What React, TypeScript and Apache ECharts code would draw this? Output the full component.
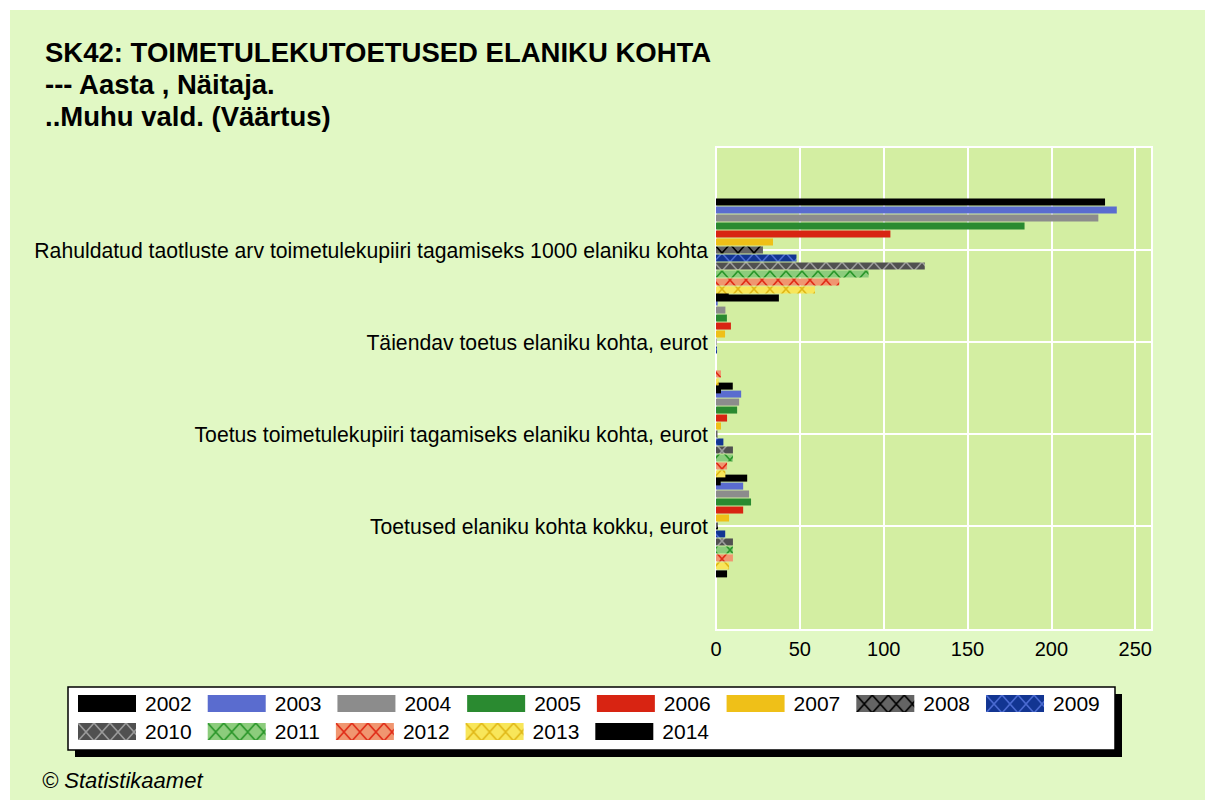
import React, { useEffect, useRef } from 'react';
import * as echarts from 'echarts';

const categories = [
  'Rahuldatud taotluste arv toimetulekupiiri tagamiseks 1000 elaniku kohta',
  'Täiendav toetus elaniku kohta, eurot',
  'Toetus toimetulekupiiri tagamiseks elaniku kohta, eurot',
  'Toetused elaniku kohta kokku, eurot',
];

const years = ['2002', '2003', '2004', '2005', '2006', '2007', '2008', '2009', '2010', '2011', '2012', '2013', '2014'];

// values per year, in category order
const v2002 = [232, 7.6, 10.0, 18.6];
const v2003 = [239, 1.0, 15.0, 16.2];
const v2004 = [228, 5.6, 13.8, 19.7];
const v2005 = [184, 6.5, 12.6, 20.9];
const v2006 = [104, 8.9, 6.6, 16.2];
const v2007 = [34, 5.4, 3.0, 7.8];
const v2008 = [28, 0.3, 0.9, 1.2];
const v2009 = [48, 0.6, 4.4, 5.5];
const v2010 = [124.5, 0, 10.1, 10.1];
const v2011 = [91, 0, 10.1, 10.1];
const v2012 = [73.5, 3.0, 6.6, 10.1];
const v2013 = [59, 1.6, 5.6, 7.8];
const v2014 = [37.5, 3.0, 2.8, 6.6];

const seriesValues = [v2002, v2003, v2004, v2005, v2006, v2007, v2008, v2009, v2010, v2011, v2012, v2013, v2014];

const xTicks = [0, 50, 100, 150, 200, 250];

const FONT = "'Liberation Sans', Arial, sans-serif";

function makePattern(bg: string, line: string): any {
  const c = document.createElement('canvas');
  c.width = 16;
  c.height = 18;
  const ctx = c.getContext('2d') as CanvasRenderingContext2D;
  ctx.fillStyle = bg;
  ctx.fillRect(0, 0, 16, 18);
  ctx.strokeStyle = line;
  ctx.lineWidth = 1.6;
  ctx.beginPath();
  ctx.moveTo(0, 0);
  ctx.lineTo(16, 18);
  ctx.moveTo(16, 0);
  ctx.lineTo(0, 18);
  ctx.stroke();
  return { image: c, repeat: 'repeat', imageWidth: 16, imageHeight: 18 };
}

export default function App() {
  const ref = useRef<HTMLDivElement>(null);

  useEffect(() => {
    if (!ref.current) return;
    const chart = echarts.init(ref.current, null, { renderer: 'svg' });

    const colors: any[] = [
      '#000000',
      '#5a6ccf',
      '#8c8c8c',
      '#2a8a30',
      '#d82412',
      '#efc018',
      makePattern('#646464', '#000000'),
      makePattern('#123592', '#4a6ad0'),
      makePattern('#505050', '#9a9a9a'),
      makePattern('#8ccc7c', '#2a962a'),
      makePattern('#f09670', '#e02c18'),
      makePattern('#f8e65a', '#e0b818'),
      '#000000',
    ];

    const series = years.map((y, i) => ({
      name: y,
      type: 'bar',
      xAxisIndex: 1,
      yAxisIndex: 1,
      data: seriesValues[i],
      barWidth: 7,
      barGap: '14%',
      clip: false,
      itemStyle: { color: colors[i] },
      emphasis: { disabled: true },
      silent: true,
    }));

    const legendBase = {
      left: 68,
      orient: 'horizontal',
      itemWidth: 58,
      itemHeight: 17,
      itemGap: 16,
      padding: 0,
      icon: 'rect',
      selectedMode: false,
      textStyle: { fontSize: 21, color: '#000', fontFamily: FONT, padding: [0, 0, 0, 4] },
    };

    chart.setOption({
      animation: false,
      backgroundColor: '#e1f8c4',
      title: [
        {
          text: 'SK42: TOIMETULEKUTOETUSED ELANIKU KOHTA\n--- Aasta , Näitaja.\n..Muhu vald. (Väärtus)',
          left: 35,
          top: 26,
          padding: 0,
          textStyle: { fontSize: 27.5, fontWeight: 'bold', color: '#000', fontFamily: FONT, lineHeight: 32 },
        },
        {
          text: '© Statistikaamet',
          left: 32,
          top: 759,
          padding: 0,
          textStyle: { fontSize: 22, fontStyle: 'italic', fontWeight: 'normal', color: '#000', fontFamily: FONT },
        },
      ],
      grid: [
        { left: 706, top: 137, width: 436, height: 483, show: true, backgroundColor: '#d3eea2', borderColor: '#ffffff', borderWidth: 2 },
        { left: 706, top: 240, width: 436, height: 276, show: false },
      ],
      xAxis: [
        {
          type: 'value',
          gridIndex: 0,
          min: 0,
          max: 260,
          interval: 50,
          axisLine: { show: false },
          axisTick: { show: false },
          splitLine: { show: true, lineStyle: { color: '#ffffff', width: 2 } },
          axisLabel: {
            fontSize: 20,
            color: '#000',
            fontFamily: FONT,
            margin: 9,
            formatter: (v: number) => (xTicks.indexOf(v) >= 0 ? String(v) : ''),
          },
        },
        { type: 'value', gridIndex: 1, min: 0, max: 260, show: false },
      ],
      yAxis: [
        { type: 'value', gridIndex: 0, min: 0, max: 1, show: false },
        {
          type: 'category',
          gridIndex: 1,
          data: categories,
          inverse: true,
          boundaryGap: false,
          z: 1,
          axisLine: { show: false },
          axisTick: { show: false },
          splitLine: { show: true, interval: 0, lineStyle: { color: '#ffffff', width: 2 } },
          axisLabel: { interval: 0, fontSize: 21.2, color: '#000', fontFamily: FONT, margin: 8 },
        },
      ],
      legend: [
        { ...legendBase, top: 683, data: years.slice(0, 8) },
        { ...legendBase, top: 711, data: years.slice(8) },
      ],
      graphic: [
        { type: 'rect', z: 2, shape: { x: 65, y: 684, width: 1047, height: 63 }, style: { fill: '#000' }, silent: true },
        { type: 'rect', z: 3, shape: { x: 58, y: 677, width: 1047, height: 63 }, style: { fill: '#fff', stroke: '#000', lineWidth: 1.5 }, silent: true },
      ],
      series,
    });

    return () => chart.dispose();
  }, []);

  return (
    <div style={{ position: 'absolute', left: 0, top: 0, width: 1205, height: 800, background: '#ffffff' }}>
      <div ref={ref} style={{ position: 'absolute', left: 10, top: 10, width: 1195, height: 790 }} />
    </div>
  );
}
